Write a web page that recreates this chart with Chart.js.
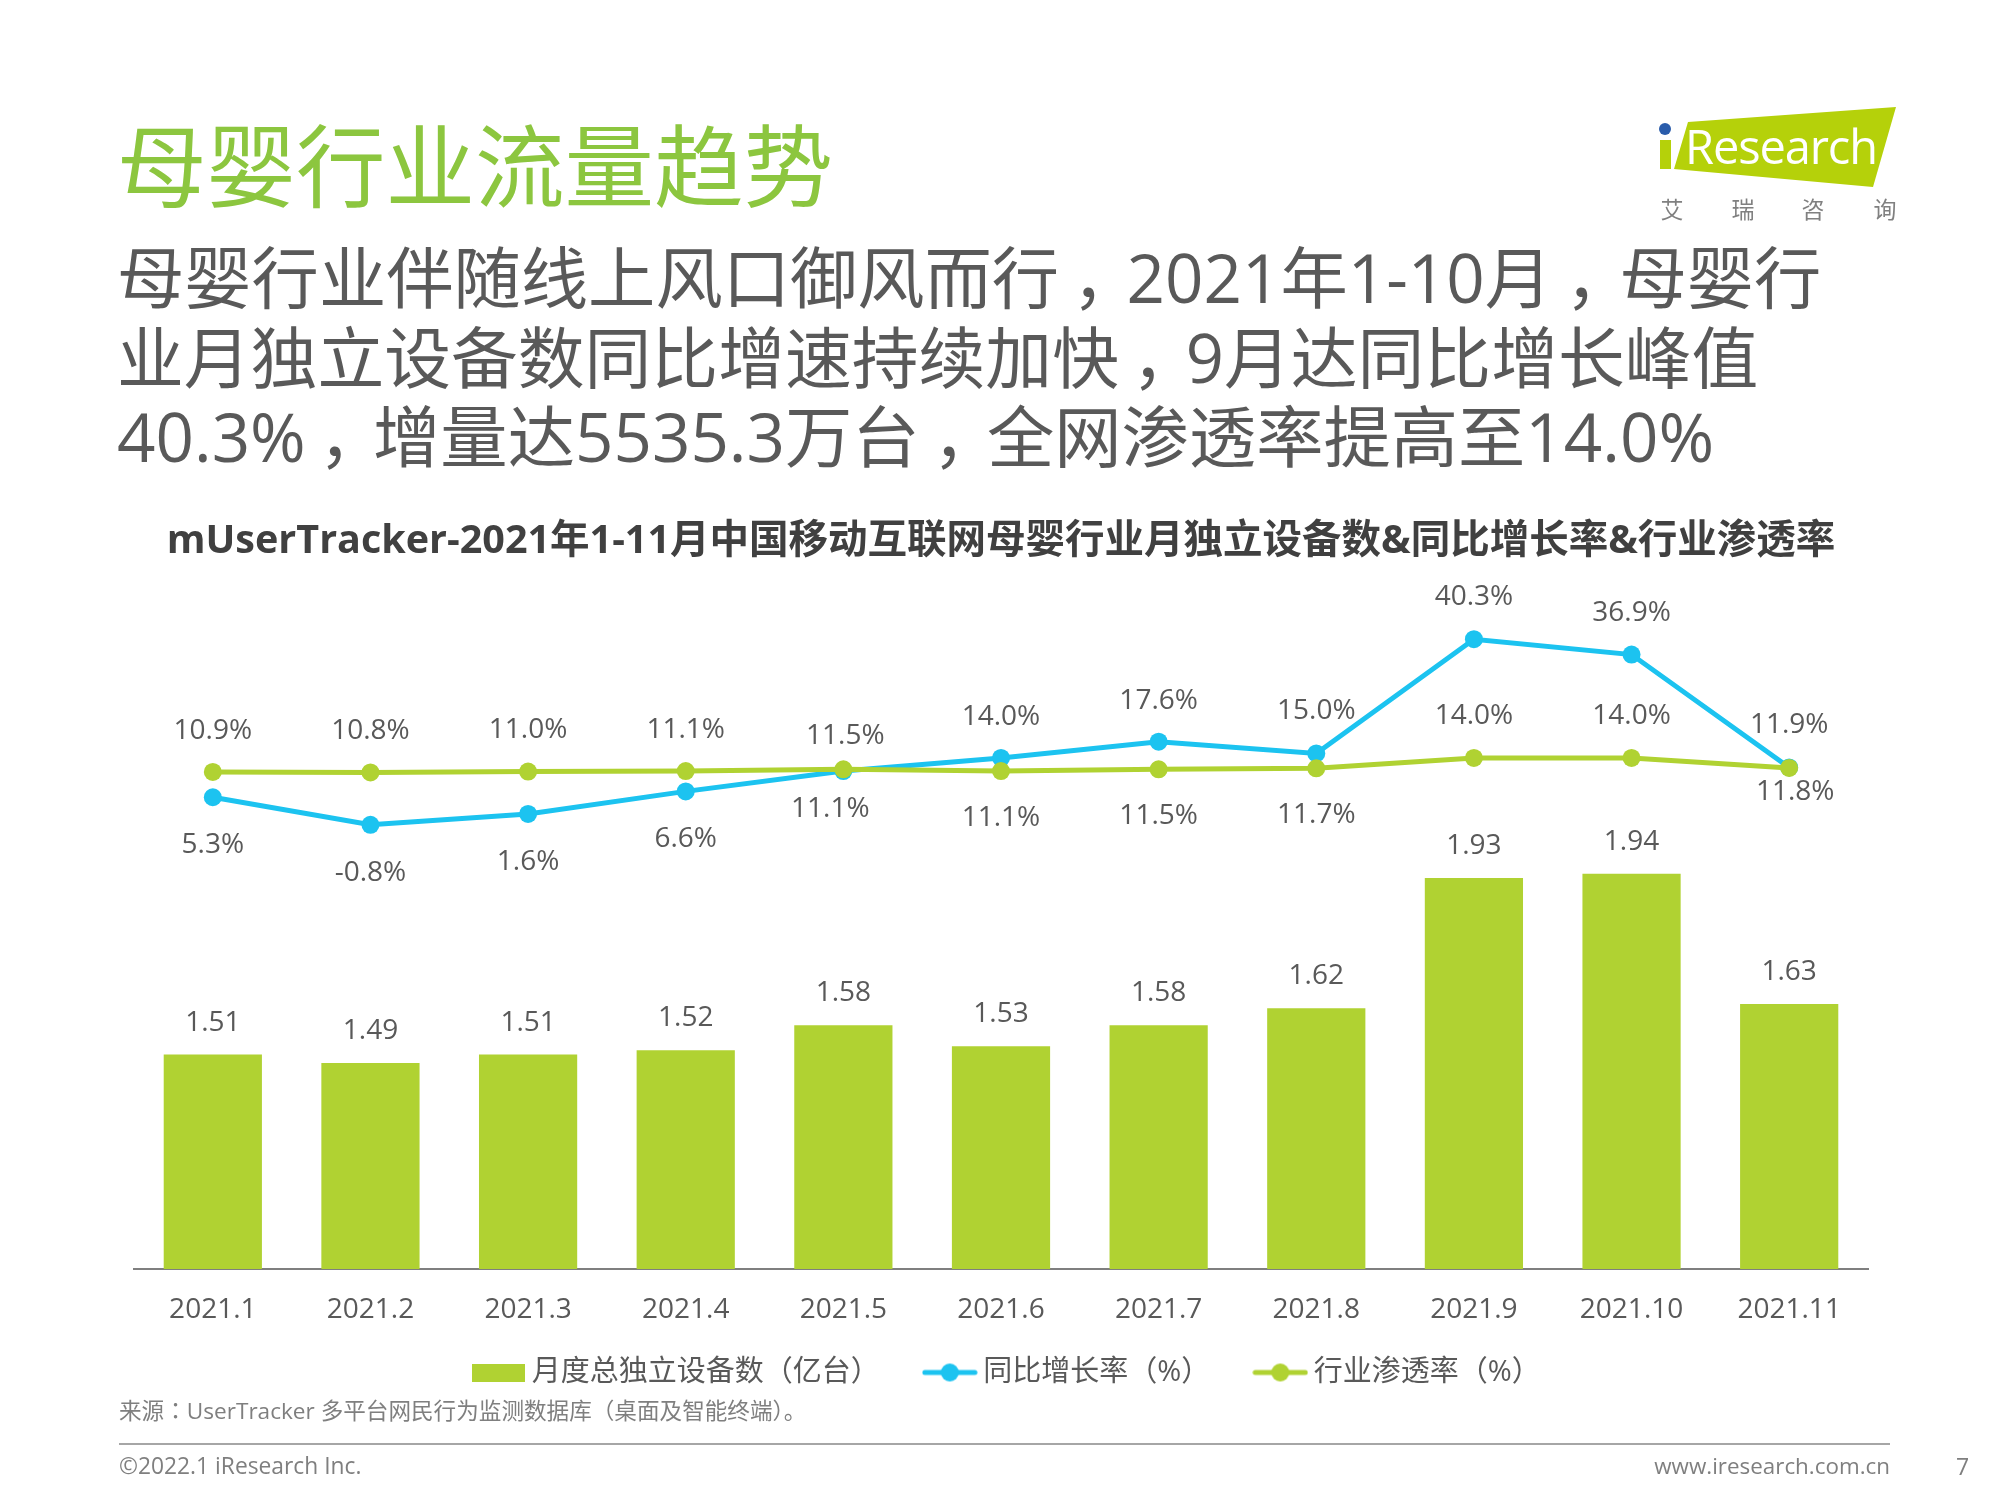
<!DOCTYPE html>
<html lang="zh-CN">
<head>
<meta charset="utf-8">
<title>母婴行业流量趋势</title>
<script src="https://cdn.jsdelivr.net/npm/chart.js@4"></script>
<style>
  html, body { margin: 0; padding: 0; background: #fff; }
  #page { position: relative; width: 2000px; height: 1500px; overflow: hidden;
          font-family: "Open Sans", "Noto Sans CJK SC", sans-serif; }
  #canvas { position: absolute; left: 0; top: 0; }
  .txt { position: absolute; white-space: nowrap; line-height: 1; }
  .tc { font-family: "Noto Sans CJK TC"; }
  .cm { position: relative; left: .19em; }
  #heading { left: 117px; top: 121px; font-size: 89.5px; color: #8cc63f; }
  .sub { left: 117px; color: #595959; }
  #source { left: 119px; top: 1399px; font-size: 22.6px; color: #7f7f7f; }
  #rule { position: absolute; left: 119px; top: 1443px; width: 1771px; height: 2px; background: #a6a6a6; }
  #copy { left: 119px; top: 1455px; font-size: 22.8px; color: #7f7f7f; }
  #site { right: 110px; top: 1455px; font-size: 22.4px; color: #7f7f7f; }
  #pageno { left: 1956px; top: 1455px; font-size: 23px; color: #7f7f7f; }
  #logo { position: absolute; left: 0; top: 0; }
</style>
</head>
<body>
<div id="page">
  <canvas id="canvas" width="2000" height="1500"></canvas>
  <div class="txt" id="heading">母婴行业流量趋势</div>
  <div class="txt sub" style="top:244px;font-size:67.3px">母婴行业伴随线上风口御风而行<span class="cm">，</span>2021年1-10月<span class="cm">，</span>母婴行</div>
  <div class="txt sub" style="top:325px;font-size:66.8px">业月独立设备数同比增速持续加快<span class="cm">，</span>9月达同比增长峰值</div>
  <div class="txt sub" style="top:403px;font-size:67.3px">40.3%<span class="cm">，</span>增量达5535.3万台<span class="cm">，</span>全网渗透率提高至14.0%</div>
  <svg id="logo" width="2000" height="240">
    <polygon points="1688,122 1896,107 1873,187 1674,169" fill="#b5d10a"/>
    <rect x="1660" y="140" width="11" height="29" fill="#b5d10a"/>
    <circle cx="1665" cy="129" r="6" fill="#2a5cab"/>
    <text x="1685" y="164" font-size="47" fill="#fff" textLength="193" font-family="Open Sans">Research</text>
    <text x="1672" y="218" font-size="23" fill="#808080" text-anchor="middle" font-family="Noto Sans CJK SC">艾</text>
    <text x="1743" y="218" font-size="23" fill="#808080" text-anchor="middle" font-family="Noto Sans CJK SC">瑞</text>
    <text x="1813" y="218" font-size="23" fill="#808080" text-anchor="middle" font-family="Noto Sans CJK SC">咨</text>
    <text x="1885" y="218" font-size="23" fill="#808080" text-anchor="middle" font-family="Noto Sans CJK SC">询</text>
  </svg>
  <div class="txt" id="source">来源<span class="tc" lang="zh-Hant">：</span>UserTracker 多平台网民行为监测数据库（桌面及智能终端）。</div>
  <div id="rule"></div>
  <div class="txt" id="copy">©2022.1 iResearch Inc.</div>
  <div class="txt" id="site">www.iresearch.com.cn</div>
  <div class="txt" id="pageno">7</div>
</div>
<script>
const months = ['2021.1', '2021.2', '2021.3', '2021.4', '2021.5', '2021.6', '2021.7', '2021.8', '2021.9', '2021.10', '2021.11'];
const devices = [1.51, 1.49, 1.51, 1.52, 1.58, 1.53, 1.58, 1.62, 1.93, 1.94, 1.63];
const growth = [5.3, -0.8, 1.6, 6.6, 11.1, 14.0, 17.6, 15.0, 40.3, 36.9, 11.9];
const penetration = [10.9, 10.8, 11.0, 11.1, 11.5, 11.1, 11.5, 11.7, 14.0, 14.0, 11.8];

const GREEN = '#b0d232';
const BLUE = '#1cc3f0';
const FONT = '"Open Sans", "Noto Sans CJK SC", sans-serif';

// label offsets from each mark, [dx, dy] by month
const barOffset = months.map(() => [0, -32]);
const growthOffset = [[0, 48], [0, 48], [0, 48], [0, 48], [-13, 38], [0, -41], [0, -41], [0, -42], [0, -42], [0, -42], [0, -42]];
const penetrationOffset = [[0, -41], [0, -41], [0, -41], [0, -41], [2, -33], [0, 47], [0, 47], [0, 47], [0, -42], [0, -42], [6, 24]];

function lineSwatch(color) {
  const c = document.createElement('canvas');
  c.width = 56; c.height = 20;
  const g = c.getContext('2d');
  g.strokeStyle = color; g.lineWidth = 5; g.lineCap = 'round';
  g.beginPath(); g.moveTo(3, 10); g.lineTo(53, 10); g.stroke();
  g.fillStyle = color;
  g.beginPath(); g.arc(28, 10, 9, 0, Math.PI * 2); g.fill();
  return c;
}
function barSwatch(color) {
  const c = document.createElement('canvas');
  c.width = 53; c.height = 18;
  const g = c.getContext('2d');
  g.fillStyle = color;
  g.fillRect(0, 0, 53, 18);
  return c;
}

const valueLabels = {
  id: 'valueLabels',
  afterDatasetsDraw(chart) {
    const ctx = chart.ctx;
    const sets = [
      { index: 0, values: devices, offset: barOffset, fmt: v => v.toFixed(2) },
      { index: 1, values: growth, offset: growthOffset, fmt: v => v.toFixed(1) + '%' },
      { index: 2, values: penetration, offset: penetrationOffset, fmt: v => v.toFixed(1) + '%' }
    ];
    ctx.save();
    ctx.font = '28px ' + FONT;
    ctx.fillStyle = '#595959';
    ctx.textAlign = 'center';
    ctx.textBaseline = 'middle';
    sets.forEach(s => {
      chart.getDatasetMeta(s.index).data.forEach((el, i) => {
        ctx.fillText(s.fmt(s.values[i]), el.x + s.offset[i][0], el.y + s.offset[i][1]);
      });
    });
    ctx.restore();
  }
};

// wide legend gaps make the legend box tall and off centre, so put it back
const legendShift = {
  id: 'legendShift',
  afterLayout(chart) {
    chart.legend.top -= 43.7;
    chart.legend.bottom -= 43.7;
    chart.legend.left += 9;
    chart.legend.right += 9;
  }
};

const swatches = [barSwatch(GREEN), lineSwatch(BLUE), lineSwatch(GREEN)];

const myChart = new Chart(document.querySelector('#canvas'), {
  data: {
    labels: months,
    datasets: [{
      type: 'bar',
      label: '月度总独立设备数（亿台）',
      data: devices,
      backgroundColor: GREEN,
      yAxisID: 'yBar',
      categoryPercentage: 1,
      barPercentage: 0.623,
      order: 3
    }, {
      type: 'line',
      label: '同比增长率（%）',
      data: growth,
      borderColor: BLUE,
      backgroundColor: BLUE,
      borderWidth: 5,
      pointRadius: 9,
      pointBackgroundColor: BLUE,
      pointBorderWidth: 0,
      tension: 0,
      yAxisID: 'yLine',
      order: 2
    }, {
      type: 'line',
      label: '行业渗透率（%）',
      data: penetration,
      borderColor: GREEN,
      backgroundColor: GREEN,
      borderWidth: 5,
      pointRadius: 9,
      pointBackgroundColor: GREEN,
      pointBorderWidth: 0,
      tension: 0,
      yAxisID: 'yLine',
      order: 1
    }]
  },
  options: {
    responsive: false,
    animation: false,
    layout: { padding: { left: 134, right: 132, top: 518, bottom: 59.3 } },
    scales: {
      x: {
        grid: { display: false, drawTicks: false },
        border: { display: true, color: '#7f7f7f', width: 2 },
        ticks: { padding: 24, color: '#595959', font: { family: FONT, size: 28 } }
      },
      yBar: { display: false, min: 1, max: 2.623 },
      yLine: { display: false, min: -99.2, max: 52 }
    },
    plugins: {
      tooltip: { enabled: false },
      title: {
        display: true,
        text: 'mUserTracker-2021年1-11月中国移动互联网母婴行业月独立设备数&同比增长率&行业渗透率',
        color: '#404040',
        font: { family: FONT, size: 39.5, weight: 'bold' },
        padding: { top: 0, bottom: 21 }
      },
      legend: {
        position: 'bottom',
        labels: {
          color: '#595959',
          font: { family: FONT, size: 29 },
          usePointStyle: true,
          pointStyleWidth: 38,
          padding: 51,
          sort: (a, b) => a.datasetIndex - b.datasetIndex,
          generateLabels(chart) {
            return Chart.defaults.plugins.legend.labels.generateLabels(chart).map(item => {
              item.pointStyle = swatches[item.datasetIndex];
              return item;
            });
          }
        }
      }
    }
  },
  plugins: [valueLabels, legendShift]
});
</script>
</body>
</html>
